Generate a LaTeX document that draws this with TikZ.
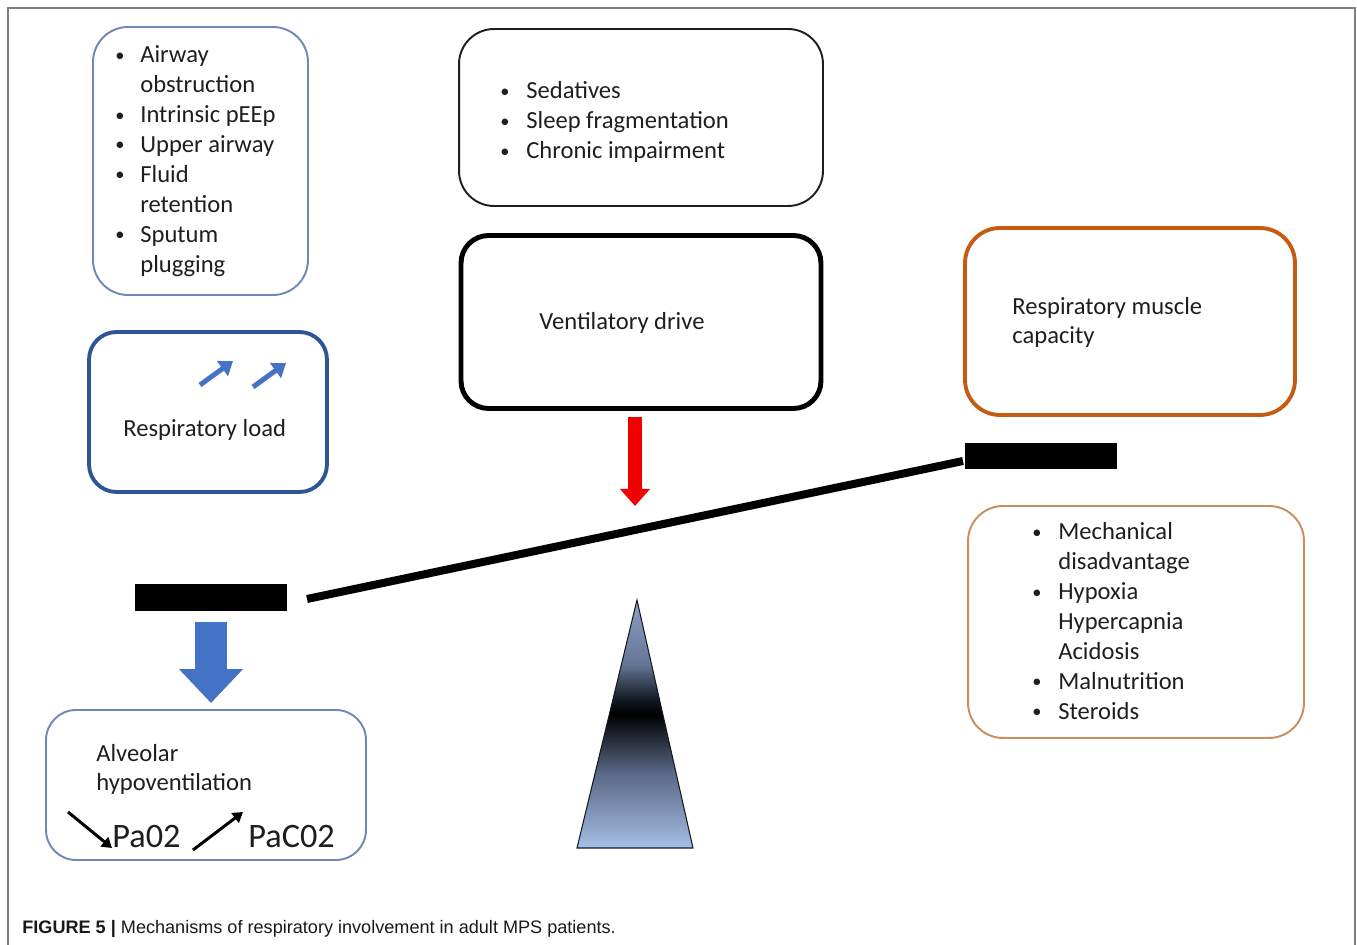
\documentclass[tikz,border=0pt]{standalone}
\usepackage{fontspec}
\setmainfont{Carlito}
\newfontfamily\capfont{Liberation Sans}
\usepackage{tikz}
\usetikzlibrary{arrows.meta,calc,positioning}
\definecolor{TextoOscuro}{RGB}{30,30,30}
\definecolor{AzulPizarra}{RGB}{112,136,184}
\definecolor{AzulCarga}{RGB}{47,85,151}
\definecolor{AzulFlecha}{RGB}{68,114,196}
\definecolor{NaranjaMusculo}{RGB}{197,90,17}
\definecolor{NaranjaClaro}{RGB}{204,140,92}
\definecolor{GrisMarco}{RGB}{128,128,128}
\definecolor{RojoImpulso}{RGB}{240,0,0}
\definecolor{PivoteArriba}{RGB}{140,160,195}
\definecolor{PivoteMedio}{RGB}{100,118,150}
\definecolor{PivoteOscuro}{RGB}{20,25,35}
\definecolor{PivoteBajo}{RGB}{90,105,135}
\definecolor{PivoteBase}{RGB}{165,190,228}
\pgfdeclareverticalshading{pivote}{100bp}{color(0bp)=(PivoteBase); color(25bp)=(PivoteBase); color(40bp)=(PivoteBajo); color(52bp)=(black); color(55bp)=(PivoteOscuro); color(62bp)=(PivoteMedio); color(75bp)=(PivoteArriba); color(100bp)=(PivoteArriba)}
\newcommand{\itm}{\raisebox{0.08em}{\scalebox{0.75}{\textbullet}}}

\begin{document}
\begin{tikzpicture}[x=0.02cm,y=-0.02cm,>=Latex,
  every node/.style={text=TextoOscuro,font=\fontsize{14}{17.07}\selectfont},
  caja/.style={draw,rounded corners=0.7cm,line width=1.1pt,minimum width=#1},
  caja/.default=4cm,
  texto/.style={anchor=base west,inner sep=0pt},
  lista/.style={anchor=base west,inner sep=0pt},
  peso/.style={fill=black,inner sep=0pt,minimum width=3.04cm,minimum height=0.53cm},
  flechita/.style={-{Triangle[width=0.36cm,length=0.26cm]},line width=0.1cm,AzulFlecha},
  flechanegra/.style={-{Triangle[width=0.24cm,length=0.2cm]},line width=0.06cm,black}]
  \useasboundingbox (0,0) rectangle (1357,945);
  \draw[GrisMarco,line width=1.2pt] (8,960) -- (8,8) -- (1355,8) -- (1355,960);

  \node[caja=4.3cm,draw=AzulPizarra,minimum height=5.36cm] (causas) at (200.5,161) {};
  \node[lista] (causaslista) at (115,63) {\begin{tabular}[t]{@{}p{0.5cm}@{}l@{}}
    \itm & Airway\\ & obstruction\\ \itm & Intrinsic pEEp\\ \itm & Upper airway\\
    \itm & Fluid\\ & retention\\ \itm & Sputum\\ & plugging\end{tabular}};

  \node[caja=4.76cm,draw=AzulCarga,line width=2.2pt,rounded corners=0.55cm,minimum height=3.2cm] (carga) at (208,412) {};
  \node[texto] (cargatxt) at (123,437) {Respiratory load};
  \draw[flechita] (200,385) -- (233,361);
  \draw[flechita] (253,387) -- (286,363);

  \node[caja=7.28cm,draw=TextoOscuro,minimum height=3.54cm] (sedantes) at (641,117.5) {};
  \node[lista] (sedanteslista) at (500,99) {\begin{tabular}[t]{@{}p{0.52cm}@{}l@{}}
    \itm & Sedatives\\ \itm & Sleep fragmentation\\ \itm & Chronic impairment\end{tabular}};

  \node[caja=7.2cm,draw=black,line width=2.8pt,rounded corners=0.55cm,minimum height=3.46cm] (impulso) at (641,322) {};
  \node[texto] (impulsotxt) at (539,330) {Ventilatory drive};

  \node[caja=6.6cm,draw=NaranjaMusculo,line width=2.2pt,minimum height=3.74cm] (musculo) at (1130,321.5) {};
  \node[texto,align=left] (musculotxt) at (1012,344) {Respiratory muscle\\capacity};

  \node[caja=6.72cm,draw=NaranjaClaro,minimum height=4.64cm] (factores) at (1136,622) {};
  \node[lista] (factoreslista) at (1032,540) {\begin{tabular}[t]{@{}p{0.52cm}@{}l@{}}
    \itm & Mechanical\\ & disadvantage\\ \itm & Hypoxia\\ & Hypercapnia\\ & Acidosis\\
    \itm & Malnutrition\\ \itm & Steroids\end{tabular}};

  \node[caja=6.4cm,draw=AzulPizarra,rounded corners=0.6cm,minimum height=3cm] (alveolar) at (206,785) {};
  \node[texto,align=left] (alveolartxt) at (96,791) {Alveolar\\hypoventilation};
  \node[texto,font=\fontsize{19.5}{22}\selectfont] (pao) at (112,848) {Pa02};
  \node[texto,font=\fontsize{19.5}{22}\selectfont] (paco) at (248,848) {PaC02};
  \draw[flechanegra] (68,812) -- (pao.base west);
  \draw[flechanegra] (193,850) -- (243,812);

  \node[peso] (pesoizq) at (211,597.5) {};
  \node[peso] (pesoder) at (1041,456) {};
  \coordinate (vigaizq) at (307,599);
  \coordinate (vigader) at (963,461);
  \draw[line width=0.16cm] (vigaizq) -- (vigader);

  \coordinate (empuje) at (635,506);
  \draw[RojoImpulso,line width=0.28cm,-{Triangle[width=0.58cm,length=0.34cm]}]
    ([yshift=-0.12cm]empuje |- impulso.south) -- (empuje);
  \draw[AzulFlecha,line width=0.64cm,-{Triangle[width=1.24cm,length=0.68cm]}]
    ([yshift=-0.22cm]pesoizq.south) -- ([yshift=0.12cm]pesoizq.south |- alveolar.north);

  \shade[shading=pivote,draw=PivoteOscuro,line width=0.6pt] (637,600) -- (693,848) -- (577,848) -- cycle;

  \node[anchor=base west,inner sep=0pt,text=black!90,font=\capfont\fontsize{10.3}{12}\selectfont] (pie) at (22,933)
    {\textbf{FIGURE 5 |} Mechanisms of respiratory involvement in adult MPS patients.};
\end{tikzpicture}
\end{document}
